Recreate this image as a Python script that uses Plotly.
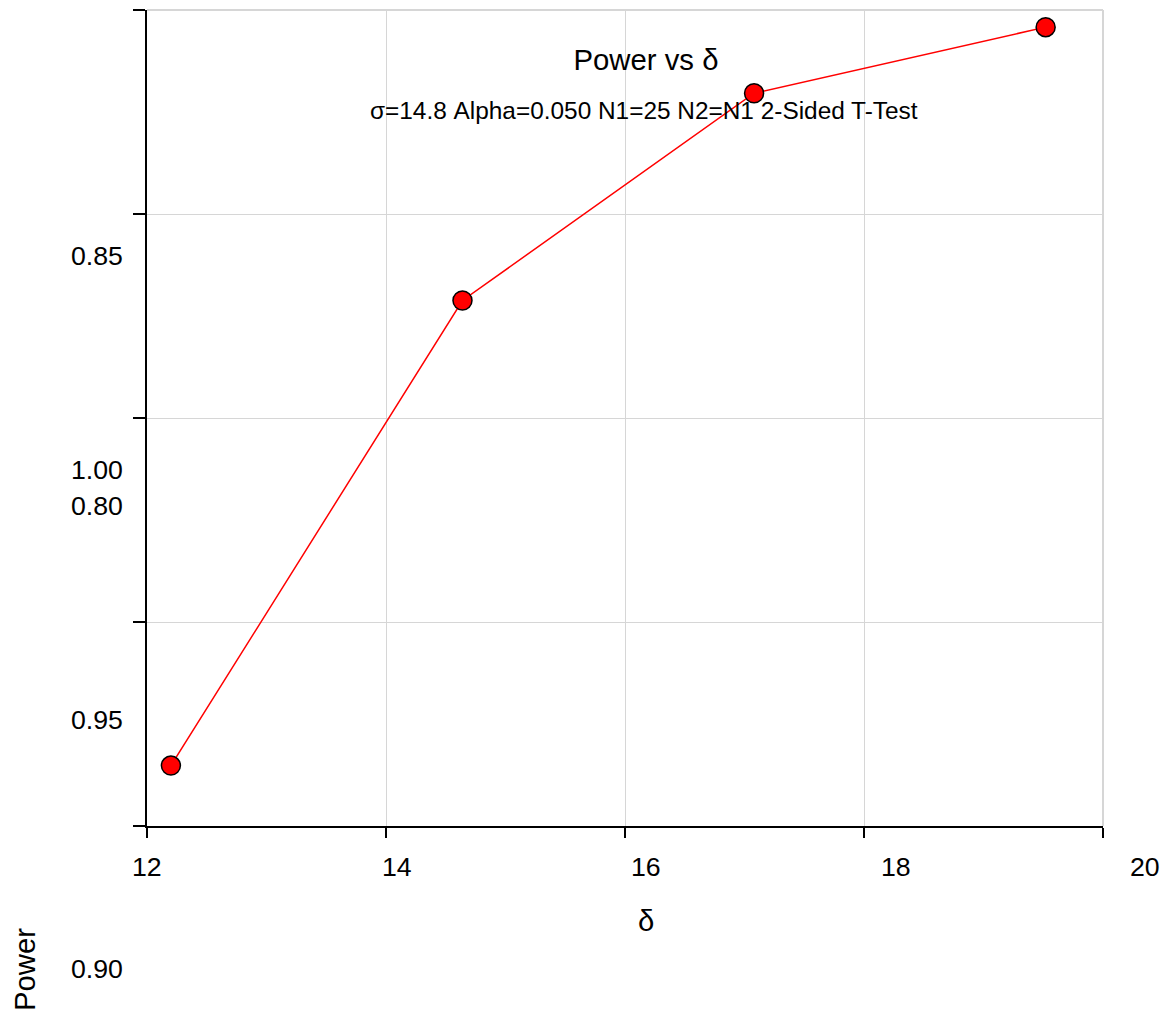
import plotly.graph_objects as go

delta = [12.2, 14.64, 17.08, 19.52]
power = [0.8148, 0.9288, 0.9796, 0.9958]

x_ticks = [12, 14, 16, 18, 20]
y_ticks = [0.80, 0.85, 0.90, 0.95, 1.00]
# tick labels as they appear (displaced) in the reference, with their paper positions
x_label_text = ["12", "14", "16", "18", "20"]
x_label_pos = [0.0, 0.2610, 0.5220, 0.7835, 1.0439]
y_label_text = ["0.85", "1.00", "0.80", "0.95", "0.90"]
y_label_pos = [0.6985, 0.4363, 0.3922, 0.1299, -0.1752]

FONT = "Liberation Sans, Arial, sans-serif"
GRID = "#d6d6d6"

fig = go.Figure()
fig.add_trace(go.Scatter(
    x=delta, y=power, mode="lines+markers",
    line=dict(color="red", width=1.5),
    marker=dict(size=19, color="red", line=dict(color="black", width=1.5)),
    showlegend=False,
))

fig.update_layout(
    width=1172, height=1021,
    margin=dict(l=139, r=77, t=2, b=203),
    paper_bgcolor="white", plot_bgcolor="white",
    font=dict(family=FONT, color="black"),
    title=dict(text="Power vs δ", x=638 / 1172, xanchor="center", y=1 - 52 / 1021,
               yanchor="middle", yref="container", font=dict(size=29.3, family=FONT)),
    xaxis=dict(
        range=[12, 20], tickvals=x_ticks, showticklabels=False,
        showgrid=True, gridcolor=GRID, gridwidth=1,
        showline=True, linecolor="black", linewidth=1.5,
        ticks="outside", ticklen=10, tickcolor="black", tickwidth=1.5,
        zeroline=False,
    ),
    yaxis=dict(
        range=[0.80, 1.00], tickvals=y_ticks, showticklabels=False,
        showgrid=True, gridcolor=GRID, gridwidth=1,
        showline=True, linecolor="black", linewidth=1.5,
        ticks="outside", ticklen=12, tickcolor="black", tickwidth=1.5,
        zeroline=False,
    ),
)

# frame lines on the top and right edges (grid at the range limits)
fig.add_shape(type="line", xref="paper", yref="paper", x0=0, x1=1, y0=1, y1=1,
              line=dict(color=GRID, width=2), layer="below")
fig.add_shape(type="line", xref="paper", yref="paper", x0=1, x1=1, y0=0, y1=1,
              line=dict(color=GRID, width=2), layer="below")

for txt, xp in zip(x_label_text, x_label_pos):
    fig.add_annotation(text=txt, xref="paper", yref="paper", x=xp, y=(826 - 867) / 816,
                       xanchor="center", yanchor="middle",
                       showarrow=False, font=dict(size=26.7, family=FONT))

for txt, yp in zip(y_label_text, y_label_pos):
    fig.add_annotation(text=txt, xref="paper", yref="paper", x=0, y=yp,
                       xanchor="right", yanchor="middle", xshift=-22,
                       showarrow=False, font=dict(size=26.7, family=FONT))

fig.add_annotation(text="δ", xref="paper", yref="paper",
                   x=(646 - 147) / 956, y=(826 - 920) / 816,
                   xanchor="center", yanchor="middle", showarrow=False,
                   font=dict(size=29.3, family=FONT))

fig.add_annotation(text="σ=14.8 Alpha=0.050 N1=25 N2=N1 2-Sided T-Test",
                   xref="paper", yref="paper", x=(643.5 - 147) / 956, y=(826 - 110) / 816,
                   xanchor="center", yanchor="middle", showarrow=False,
                   font=dict(size=24.4, family=FONT))

fig.add_annotation(text="Power", xref="paper", yref="paper",
                   x=(24 - 147) / 956, y=(826 - 970) / 816,
                   xanchor="center", yanchor="middle", textangle=-90,
                   showarrow=False, font=dict(size=29.3, family=FONT))

fig.write_html("out.html")
